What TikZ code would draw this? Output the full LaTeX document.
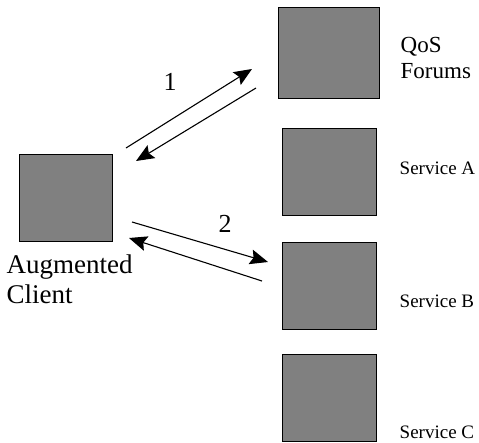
\documentclass[tikz,border=0pt]{standalone}
\usepackage{fontspec}
\setmainfont{Liberation Serif}
\usetikzlibrary{arrows.meta,positioning}

\tikzset{
  box/.style={draw=black, fill=gray, line width=1pt, inner sep=0pt,
    minimum width=94pt, minimum height=87pt},
  lbl/.style={inner sep=0pt, align=left, font=\fontsize{19}{26}\selectfont},
  msg/.style={line width=1.1pt, -{Stealth[length=18pt,width=15pt,inset=3pt]}}
}

\begin{document}
\begin{tikzpicture}[x=1pt,y=-1pt]
\useasboundingbox (0,0) rectangle (479,442);

\node (client) [box, minimum width=93pt] at (65.5,197.5) {};
\node (qos) [box, minimum width=101pt, minimum height=91pt] at (328.5,52.5) {};
\node (srvA) [box] at (329,171.5) {};
\node (srvB) [box] at (329,285.5) {};
\node (srvC) [box] at (329,397.5) {};

\node (lclient) [below right=13.5pt and -12pt of client.south west, anchor=north west,
  lbl, font=\fontsize{27}{30}\selectfont] {Augmented\\Client};
\node (lqos) [right=21pt of qos, yshift=-5pt, lbl, font=\fontsize{23}{26}\selectfont] {QoS\\Forums};
\node (lA) [right=23pt of srvA, yshift=3.5pt, lbl] {Service A};
\node (lB) [right=23pt of srvB, yshift=-16pt, lbl] {Service B};
\node (lC) [right=23pt of srvC, yshift=-35pt, lbl] {Service C};

% request/reply pairs
\coordinate (a1s) at (126,148);
\coordinate (a1e) at (252,69);
\coordinate (b1s) at (256,88);
\coordinate (b1e) at (136,161);
\coordinate (a2s) at (132,222);
\coordinate (a2e) at (268,262);
\coordinate (b2s) at (262,281);
\coordinate (b2e) at (129,238);

\draw[msg] (a1s) -- (a1e);
\draw[msg] (b1s) -- (b1e);
\draw[msg] (a2s) -- (a2e);
\draw[msg] (b2s) -- (b2e);

\node (n1) at (170,82) [lbl, font=\fontsize{26}{26}\selectfont] {1};
\node (n2) at (225,223.5) [lbl, font=\fontsize{26}{26}\selectfont] {2};
\end{tikzpicture}
\end{document}
